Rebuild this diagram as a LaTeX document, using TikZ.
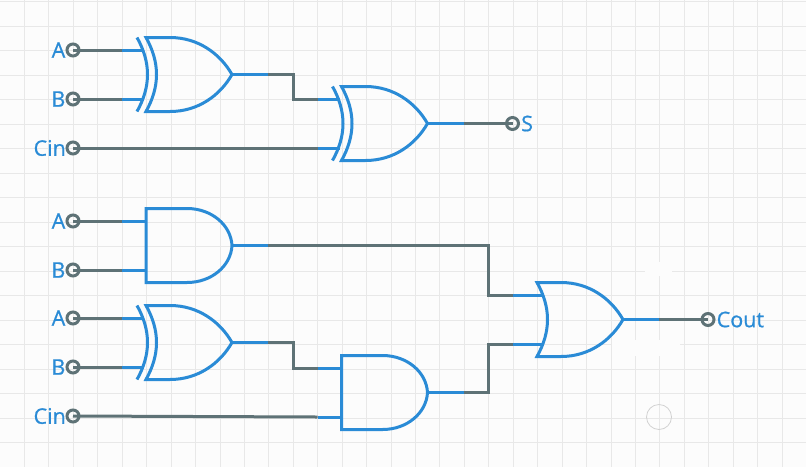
\documentclass[tikz,border=0pt]{standalone}
\usepackage{fontspec}
\setmainfont{Open Sans}
\newfontfamily\pinfont[RawFeature={embolden=0.7}]{Open Sans}
\usepackage{xcolor}
\usetikzlibrary{positioning}
\definecolor{gateblue}{HTML}{2A8BD6}
\definecolor{wiregray}{HTML}{5E7276}
\definecolor{paper}{HTML}{FCFCFC}
\tikzset{
  gateline/.style={draw=gateblue, line width=3pt, line join=miter},
  wire/.style={draw=wiregray, line width=3pt},
  terminal/.style={circle, draw=wiregray, line width=3pt, minimum size=12pt, inner sep=0pt, outer sep=0pt},
  pinlabel/.style={text=gateblue, inner sep=0pt, font=\pinfont\fontsize{21.5}{23}\selectfont},
  gridline/.style={draw=black!9, line width=0.9pt},
  orgate/.pic={
    \draw[gateline] (0,0) -- (24,0) .. controls (52,0) and (74,16) .. (86,37)
      .. controls (74,58) and (52,74) .. (24,74) -- (0,74)
      .. controls (14,49) and (14,25) .. (0,0) -- cycle;
    \draw[gateline] (86,37) -- (122,37);
    \coordinate (-out) at (122,37);
  },
  xorgate/.pic={
    \pic {orgate};
    \draw[gateline] (-9,0) .. controls (5,25) and (5,49) .. (-9,74);
    \draw[gateline] (-24,12.5) -- (-2,12.5);
    \draw[gateline] (-24,61.5) -- (-2,61.5);
    \coordinate (-in1) at (-24,12.5);
    \coordinate (-in2) at (-24,61.5);
    \coordinate (-out) at (122,37);
  },
  orinput/.pic={
    \pic {orgate};
    \draw[gateline] (-24,12.5) -- (6,12.5);
    \draw[gateline] (-24,61.5) -- (6,61.5);
    \coordinate (-in1) at (-24,12.5);
    \coordinate (-in2) at (-24,61.5);
    \coordinate (-out) at (122,37);
  },
  andgate/.pic={
    \draw[gateline] (0,0) -- (41,0) .. controls (66,0) and (85,17) .. (86,37)
      .. controls (85,57) and (66,74) .. (41,74) -- (0,74) -- cycle;
    \draw[gateline] (86,37) -- (122,37);
    \draw[gateline] (-24,12.5) -- (0,12.5);
    \draw[gateline] (-24,61.5) -- (0,61.5);
    \coordinate (-in1) at (-24,12.5);
    \coordinate (-in2) at (-24,61.5);
    \coordinate (-out) at (122,37);
  },
}

\begin{document}
\begin{tikzpicture}[x=1pt, y=-1pt]
\useasboundingbox (0,0) rectangle (806,467);
\fill[paper] (0,0) rectangle (806,467);
% init-grid
\foreach \gx in {1,...,32} \draw[gridline] (24.44*\gx,0) -- (24.44*\gx,467);
\foreach \gy in {0,...,18} \draw[gridline] (0,1.5+24.5*\gy) -- (806,1.5+24.5*\gy);
\fill[paper] (645,262) rectangle (672,276);
\fill[paper] (612,340) rectangle (680,356);
\draw[black!18, line width=0.8pt] (659,417) circle (12.5);
% draw gates
\pic (xorA) at (146,37.5) {xorgate};
\pic (xorB) at (341.5,86.5) {xorgate};
\pic (andA) at (146,208.5) {andgate};
\pic (xorC) at (146,305.5) {xorgate};
\pic (andB) at (341.5,355.5) {andgate};
\pic (orA) at (537,282.5) {orinput};
% draw terminals
\node[terminal] (a1) at (73,50) {};
\node[terminal] (b1) at (73,99) {};
\node[terminal] (cin1) at (73,148) {};
\node[terminal] (a2) at (73,221) {};
\node[terminal] (b2) at (73,270) {};
\node[terminal] (a3) at (73,318) {};
\node[terminal] (b3) at (73,367) {};
\node[terminal] (cin2) at (73,416) {};
\node[terminal] (sum) at (512.5,123.5) {};
\node[terminal] (cout) at (708,319.5) {};
% draw labels
\node[pinlabel, left=1.5pt of a1] (a1text) {A};
\node[pinlabel, left=1.5pt of b1] (b1text) {B};
\node[pinlabel, left=1pt of cin1] (cin1text) {Cin};
\node[pinlabel, left=1.5pt of a2] (a2text) {A};
\node[pinlabel, left=1.5pt of b2] (b2text) {B};
\node[pinlabel, left=1.5pt of a3] (a3text) {A};
\node[pinlabel, left=1.5pt of b3] (b3text) {B};
\node[pinlabel, left=1pt of cin2] (cin2text) {Cin};
\node[pinlabel, right=2.5pt of sum] (sumtext) {S};
\node[pinlabel, right=2.5pt of cout] (couttext) {Cout};
% draw wires
\draw[wire] (a1.center) -- (xorA-in1);
\draw[wire] (b1.center) -- (xorA-in2);
\draw[wire] (cin1.center) -- (xorB-in2);
\draw[wire] (xorA-out) -- ++(25,0) |- (xorB-in1);
\draw[wire] (xorB-out) -- (sum.center);
\draw[wire] (a2.center) -- (andA-in1);
\draw[wire] (b2.center) -- (andA-in2);
\draw[wire] (a3.center) -- (xorC-in1);
\draw[wire] (b3.center) -- (xorC-in2);
\draw[wire] (cin2.center) -- (andB-in2);
\draw[wire] (xorC-out) -- ++(25,0) |- (andB-in1);
\draw[wire] (andA-out) -- ++(220,0) |- (orA-in1);
\draw[wire] (andB-out) -- ++(25,0) |- (orA-in2);
\draw[wire] (orA-out) -- (cout.center);
\end{tikzpicture}
\end{document}
